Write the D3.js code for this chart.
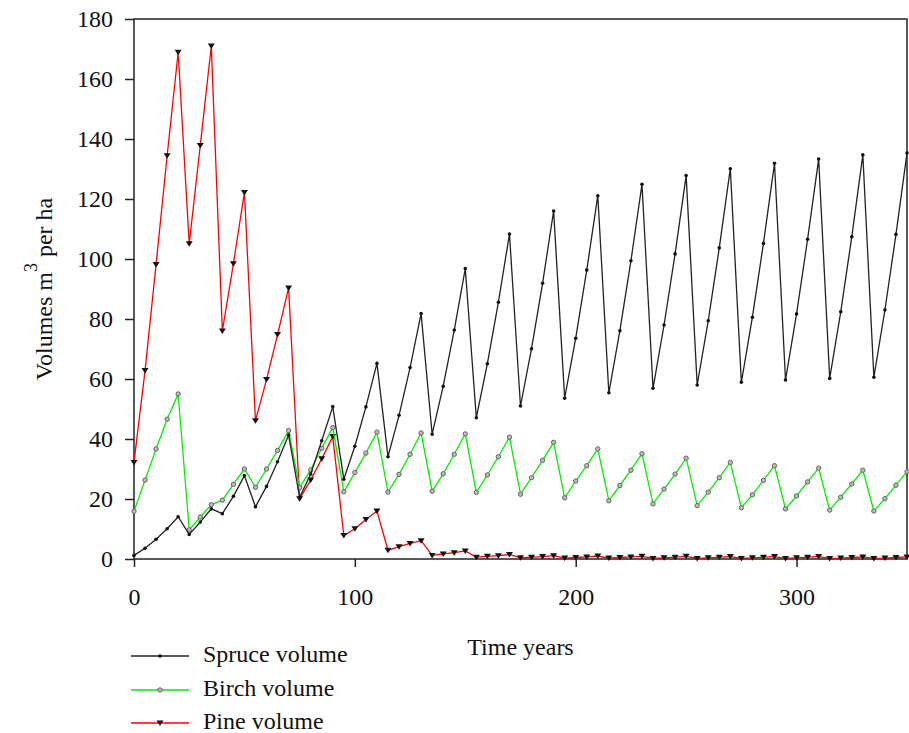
<!DOCTYPE html>
<html>
<head>
<meta charset="utf-8">
<script src="https://cdn.jsdelivr.net/npm/d3@7"></script>
<style>
  body { margin: 0; background: #fff; }
  svg text { font-family: "Liberation Serif", "DejaVu Serif", serif !important; fill: #111; }
</style>
</head>
<body>
<div id="chart"></div>
<script>
// years 0..350, one value every 5 years
const years = d3.range(0, 351, 5);

const spruceVolume = [
  1.2, 3.6, 6.6, 10.1, 14.1, 8.2, 12.3, 16.7, 15.1, 20.9, 27.8, 17.4, 24.2, 32.4, 41.3,
  20.6, 28.3, 39.4, 50.8, 26.6, 37.6, 50.7, 65.2, 34.1, 47.9, 63.8, 81.8, 41.6, 57.6, 76.3,
  96.8, 47.1, 65.1, 85.6, 108.3, 51, 70.1, 91.9, 116, 53.6, 73.6, 96.3, 121.1, 55.4, 76.1,
  99.4, 124.9, 56.9, 78, 101.7, 127.8, 58, 79.4, 103.7, 130.1, 58.9, 80.6, 105.2, 131.9, 59.7,
  81.7, 106.6, 133.3, 60.2, 82.4, 107.4, 134.7, 60.6, 83, 108.2, 135.3
];

const birchVolume = [
  15.9, 26.3, 36.7, 46.6, 55, 9.7, 14, 18.1, 19.6, 24.9, 30, 23.9, 30, 36.2, 42.8,
  23.8, 29.7, 36.9, 43.8, 22.4, 28.8, 35.3, 42.3, 22.3, 28.2, 34.9, 42, 22.6, 28.4, 34.9,
  41.7, 22.2, 28, 34.1, 40.6, 21.6, 27.1, 32.9, 38.9, 20.4, 26, 31.1, 36.7, 19.4, 24.5,
  29.6, 35.1, 18.4, 23.3, 28.3, 33.6, 17.8, 22.3, 27.1, 32.2, 17.1, 21.4, 26.2, 31.1, 16.7,
  21, 25.7, 30.3, 16.3, 20.6, 25, 29.6, 16, 20.1, 24.6, 29.1
];

const pineVolume = [
  32.2, 62.8, 98.2, 134.4, 168.9, 105.1, 137.8, 171, 76, 98.4, 122.2, 46.1, 59.8, 74.8, 90.3,
  20.1, 26.3, 33.4, 40.8, 7.8, 10.1, 13.2, 16, 2.9, 4.1, 5.2, 6.1, 1.2, 1.7, 2.1,
  2.7, 0.6, 0.9, 1.1, 1.5, 0.4, 0.6, 0.8, 1.1, 0.3, 0.5, 0.7, 1.0, 0.3, 0.5,
  0.7, 0.9, 0.2, 0.4, 0.6, 0.9, 0.2, 0.4, 0.6, 0.8, 0.2, 0.4, 0.6, 0.8, 0.2,
  0.4, 0.6, 0.8, 0.2, 0.3, 0.5, 0.7, 0.2, 0.3, 0.5, 0.7
];

const yTicks = d3.range(0, 181, 20);
const xTicks = [0, 100, 200, 300];

const seriesNames = ["Spruce volume", "Birch volume", "Pine volume"];
const seriesColors = ["#222222", "#00ee00", "#ff0000"];
const seriesMarkers = ["dot", "ring", "triangle"];

const width = 909, height = 733;
const plot = {left: 134, right: 907, top: 19, bottom: 559};

let svg = d3.select("#chart")
  .append("svg")
  .attr("width", width)
  .attr("height", height);

let x = d3.scaleLinear().domain([0, 350]).range([plot.left, plot.right]);
let y = d3.scaleLinear().domain([0, 180]).range([plot.bottom, plot.top]);

// frame
svg.append("rect")
  .attr("x", plot.left)
  .attr("y", plot.top)
  .attr("width", plot.right - plot.left)
  .attr("height", plot.bottom - plot.top)
  .attr("fill", "none")
  .attr("stroke", "#222")
  .attr("stroke-width", 1.5);

// axes
let yAxis = svg.append("g")
  .attr("transform", `translate(${plot.left},0)`)
  .call(d3.axisLeft(y).tickValues(yTicks).tickSize(9).tickSizeOuter(0).tickPadding(12));
let xAxis = svg.append("g")
  .attr("transform", `translate(0,${plot.bottom})`)
  .call(d3.axisBottom(x).tickValues(xTicks).tickSize(8).tickSizeOuter(0).tickPadding(21));

[yAxis, xAxis].forEach(a => {
  a.attr("font-family", null);
  a.select(".domain").remove();
  a.selectAll(".tick line").attr("stroke", "#222").attr("stroke-width", 1.5);
  a.selectAll(".tick text")
    .attr("font-size", "24px")
    .attr("fill", "#111");
});

// axis titles
let yTitle = svg.append("text")
  .attr("transform", "translate(52,289) rotate(-90)")
  .attr("text-anchor", "middle")
  .attr("font-size", "24px");
yTitle.append("tspan").text("Volumes m");
yTitle.append("tspan").attr("dy", -15).attr("font-size", "18px").text("3");
yTitle.append("tspan").attr("dy", 15).text(" per ha");

svg.append("text")
  .attr("x", (plot.left + plot.right) / 2)
  .attr("y", 655)
  .attr("text-anchor", "middle")
  .attr("font-size", "24px")
  .text("Time years");

// series
let seriesData = [spruceVolume, birchVolume, pineVolume].map(vals =>
  vals.map((v, i) => ({t: years[i], v: v})));

let line = d3.line().x(d => x(d.t)).y(d => y(d.v));

function drawMarker(g, kind, cx, cy) {
  if (kind === "dot") {
    g.append("circle").attr("cx", cx).attr("cy", cy).attr("r", 1.8).attr("fill", "#111");
  } else if (kind === "ring") {
    g.append("circle").attr("cx", cx).attr("cy", cy).attr("r", 2.2)
      .attr("fill", "#bbb").attr("stroke", "#666").attr("stroke-width", 1);
  } else {
    g.append("path")
      .attr("d", `M${cx - 3.5},${cy - 2.5}L${cx + 3.5},${cy - 2.5}L${cx},${cy + 3}Z`)
      .attr("fill", "#111");
  }
}

// draw order: pine under, birch, spruce on top
[2, 1, 0].forEach(si => {
  let g = svg.append("g");
  g.append("path")
    .datum(seriesData[si])
    .attr("fill", "none")
    .attr("stroke", seriesColors[si])
    .attr("stroke-width", 1.3)
    .attr("d", line);
  seriesData[si].forEach(d => drawMarker(g, seriesMarkers[si], x(d.t), y(d.v)));
});

// legend
let legendRows = [656, 690, 723];
seriesNames.forEach((name, i) => {
  let g = svg.append("g");
  g.append("line")
    .attr("x1", 131).attr("x2", 189)
    .attr("y1", legendRows[i]).attr("y2", legendRows[i])
    .attr("stroke", seriesColors[i])
    .attr("stroke-width", 1.5);
  drawMarker(g, seriesMarkers[i], 160, legendRows[i]);
  g.append("text")
    .attr("x", 203)
    .attr("y", legendRows[i] + 6)
    .attr("font-size", "24px")
    .text(name);
});
</script>
</body>
</html>
